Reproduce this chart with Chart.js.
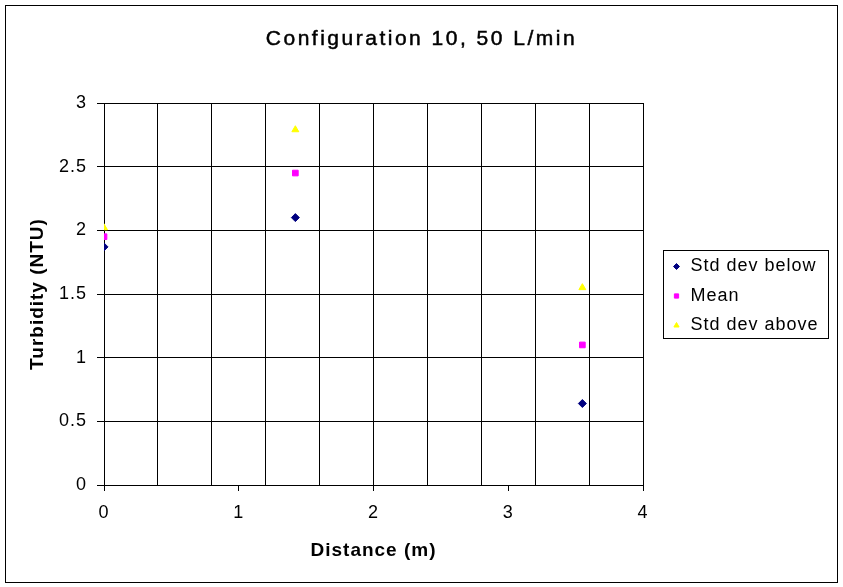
<!DOCTYPE html>
<html>
<head>
<meta charset="utf-8">
<title>Configuration 10, 50 L/min</title>
<script src="https://cdn.jsdelivr.net/npm/chart.js@4.4.1/dist/chart.umd.min.js"></script>
<style>
  html, body { margin: 0; padding: 0; background: #fff; }
  #wrap { width: 843px; height: 587px; position: relative; }
</style>
</head>
<body>
<div id="wrap"><canvas id="chart"></canvas></div>
<script>
/* ---------- datos ---------- */
const chartTitle = 'Configuration 10, 50 L/min';
const xAxisTitle = 'Distance (m)';
const yAxisTitle = 'Turbidity (NTU)';
const seriesNames = ['Std dev below', 'Mean', 'Std dev above'];

const distances = [0, 1.42, 3.55];
const stdDevBelow = [1.87, 2.10, 0.64];
const meanTurbidity = [1.95, 2.45, 1.10];
const stdDevAbove = [2.02, 2.79, 1.55];

const xGridValues = [0, 0.4, 0.8, 1.2, 1.6, 2, 2.4, 2.8, 3.2, 3.6, 4];
const xTickLabels = [0, 1, 2, 3, 4];
const yTickLabels = [0, 0.5, 1, 1.5, 2, 2.5, 3];

const FONT = "'Liberation Sans', Arial, sans-serif";

function toPoints(values) {
  return distances.map((x, i) => ({ x: x, y: values[i] }));
}

/* ---------- marco, título y leyenda al estilo Excel ---------- */
const sheetFrame = {
  id: 'sheetFrame',
  beforeDraw(chart) {
    chart.ctx.letterSpacing = '1px';
  },
  afterDraw(chart) {
    const ctx = chart.ctx;
    const area = chart.chartArea;
    ctx.save();

    // borde exterior
    ctx.strokeStyle = '#000';
    ctx.lineWidth = 1;
    ctx.strokeRect(5.5, 5.5, chart.width - 11, chart.height - 10);

    // título (un trazo fino para imitar el texto sin suavizado de Excel)
    ctx.letterSpacing = '2.5px';
    ctx.fillStyle = '#000';
    ctx.font = '21px ' + FONT;
    ctx.textAlign = 'center';
    ctx.textBaseline = 'middle';
    ctx.fillText(chartTitle, chart.width / 2, 39);
    ctx.lineWidth = 0.5;
    ctx.strokeText(chartTitle, chart.width / 2, 39);

    // leyenda
    ctx.lineWidth = 1;
    ctx.letterSpacing = '1px';
    const boxW = 165, boxH = 88;
    const boxX = Math.round(area.right + 20) + 0.5;
    const boxY = Math.round((area.top + area.bottom) / 2 - boxH / 2) + 0.5;
    ctx.strokeRect(boxX, boxY, boxW, boxH);
    ctx.font = '18px ' + FONT;
    ctx.textAlign = 'left';
    chart.data.datasets.forEach((ds, i) => {
      const y = boxY + 16 + i * 29.5;
      ctx.fillStyle = ds.backgroundColor;
      ctx.strokeStyle = ds.borderColor;
      if (Chart.helpers && Chart.helpers.drawPoint) {
        Chart.helpers.drawPoint(ctx, {
          pointStyle: ds.pointStyle, radius: 3, rotation: 0, borderWidth: 1
        }, boxX + 13, y);
      }
      ctx.fillStyle = '#000';
      ctx.fillText(ds.label, boxX + 27, y);
    });
    ctx.restore();
  }
};

/* ---------- gráfico ---------- */
new Chart(document.getElementById('chart'), {
  type: 'scatter',
  data: {
    datasets: [
      {
        label: seriesNames[0],
        data: toPoints(stdDevBelow),
        pointStyle: 'rectRot',
        backgroundColor: '#000080',
        borderColor: '#000080',
        pointRadius: 4,
        borderWidth: 1
      },
      {
        label: seriesNames[1],
        data: toPoints(meanTurbidity),
        pointStyle: 'rect',
        backgroundColor: '#FF00FF',
        borderColor: '#FF00FF',
        pointRadius: 4,
        borderWidth: 1
      },
      {
        label: seriesNames[2],
        data: toPoints(stdDevAbove),
        pointStyle: 'triangle',
        backgroundColor: '#FFFF00',
        borderColor: '#FFFF00',
        pointRadius: 4,
        borderWidth: 1
      }
    ]
  },
  options: {
    responsive: true,
    maintainAspectRatio: false,
    animation: false,
    layout: { padding: { left: 0, top: 103, right: 200, bottom: 0 } },
    plugins: {
      legend: { display: false },
      title: { display: false },
      tooltip: { enabled: false }
    },
    scales: {
      x: {
        type: 'linear',
        min: 0,
        max: 4,
        afterBuildTicks: (scale) => {
          const vals = Array.from(new Set(xGridValues.concat(xTickLabels))).sort((a, b) => a - b);
          scale.ticks = vals.map(v => ({ value: v }));
        },
        afterFit: (scale) => { scale.height = 102; },
        border: { display: true, color: '#000', width: 1 },
        grid: {
          color: (c) => xGridValues.includes(c.tick.value) ? '#000' : 'rgba(0,0,0,0)',
          tickColor: (c) => xTickLabels.includes(c.tick.value) ? '#000' : 'rgba(0,0,0,0)',
          tickLength: 6,
          lineWidth: 1
        },
        ticks: {
          autoSkip: false,
          maxRotation: 0,
          padding: 11,
          color: '#000',
          font: { family: FONT, size: 18 },
          callback: (v) => xTickLabels.includes(v) ? String(v) : ''
        },
        title: {
          display: true,
          text: xAxisTitle,
          color: '#000',
          font: { family: FONT, size: 19, weight: 'bold' },
          padding: { top: 0, bottom: 25 }
        }
      },
      y: {
        type: 'linear',
        min: 0,
        max: 3,
        afterBuildTicks: (scale) => {
          scale.ticks = yTickLabels.map(v => ({ value: v }));
        },
        afterFit: (scale) => { scale.width = 104; },
        border: { display: true, color: '#000', width: 1 },
        grid: {
          color: '#000',
          tickColor: '#000',
          tickLength: 7,
          lineWidth: 1
        },
        ticks: {
          autoSkip: false,
          padding: 10,
          color: '#000',
          font: { family: FONT, size: 18 },
          callback: (v) => String(v)
        },
        title: {
          display: true,
          text: yAxisTitle,
          color: '#000',
          font: { family: FONT, size: 19, weight: 'bold' },
          padding: { top: 26, bottom: 0 }
        }
      }
    }
  },
  plugins: [sheetFrame]
});
</script>
</body>
</html>
